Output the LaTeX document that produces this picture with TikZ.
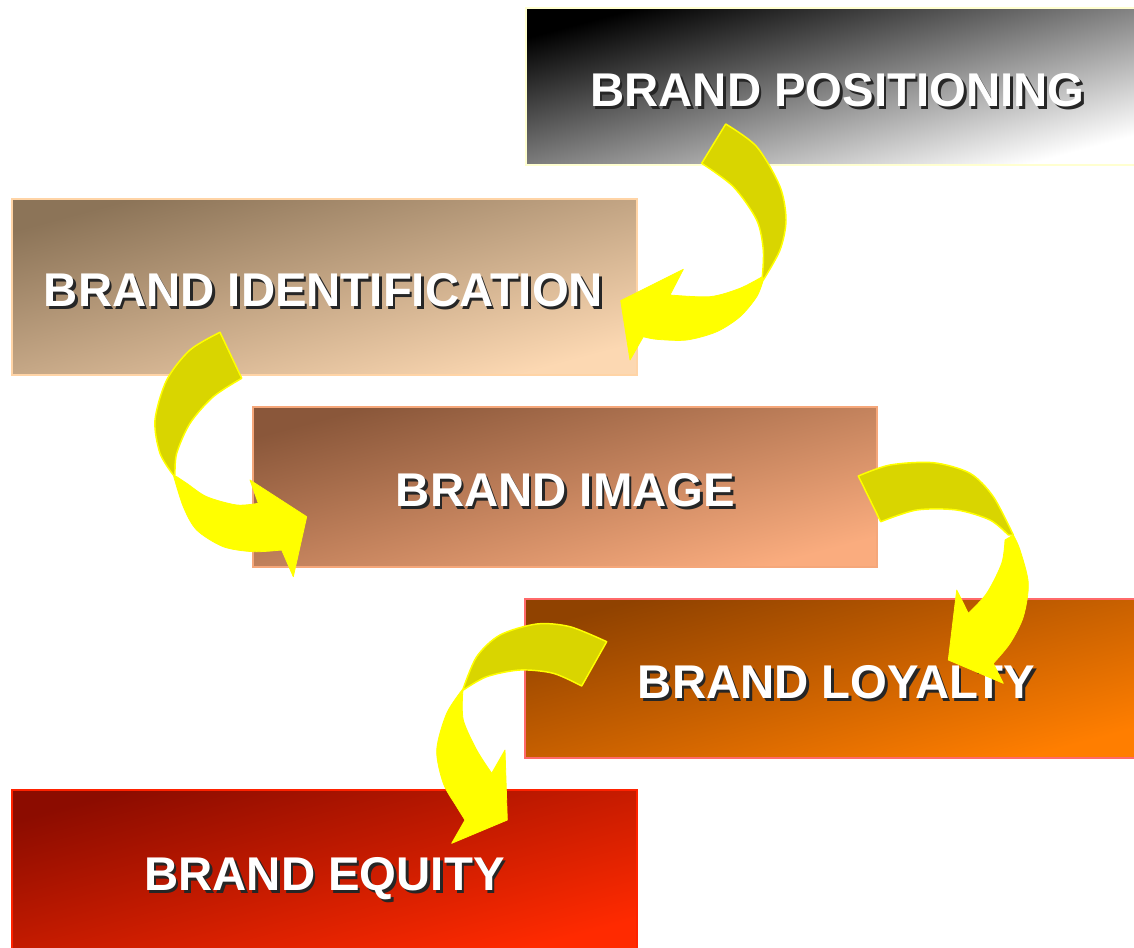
\documentclass[tikz,border=0pt]{standalone}
\usepackage{fontspec}
\setmainfont{Liberation Sans}
\usetikzlibrary{fit}
\definecolor{b1a}{HTML}{000000}\definecolor{b1b}{HTML}{FFFFFF}\definecolor{b1e}{HTML}{FFFFD0}
\definecolor{b2a}{HTML}{8C7458}\definecolor{b2b}{HTML}{FCD8B2}\definecolor{b2e}{HTML}{FFD4A6}
\definecolor{b3a}{HTML}{8A573A}\definecolor{b3b}{HTML}{FAAC7E}\definecolor{b3e}{HTML}{F5A77A}
\definecolor{b4a}{HTML}{904200}\definecolor{b4b}{HTML}{FF7E00}\definecolor{b4e}{HTML}{FF6A6A}
\definecolor{b5a}{HTML}{8C0C00}\definecolor{b5b}{HTML}{FF2A00}\definecolor{b5e}{HTML}{FF2200}
\definecolor{dkyel}{HTML}{D9D500}
\definecolor{bryel}{HTML}{FFFF00}
\newcommand\shtext[1]{\rlap{\kern1.9pt\raisebox{-1.9pt}{\color{black!85}#1}}#1}
\begin{document}
\begin{tikzpicture}[x=0.75pt,y=-0.75pt,
  gbox/.style n args={3}{inner sep=0pt, line width=1.1pt, draw=#3, top color=#1, bottom color=#2, shading angle=15},
  lbl/.style={anchor=base, text=white, font=\bfseries\fontsize{35.5}{40}\selectfont, inner sep=0pt},
  dk/.style={fill=dkyel, draw=bryel, line width=1.1pt, line join=round},
  br/.style={fill=bryel, draw=bryel, line width=0.6pt, line join=round}]
\useasboundingbox (0,0) rectangle (1134,948);
\fill[white] (0,0) rectangle (1134,948);
% boxes
\node[gbox={b1a}{b1b}{b1e}, fit={(526,8)(1136,165)}] (pos) {};
\node[gbox={b2a}{b2b}{b2e}, fit={(12,199)(637,375)}] (ident) {};
\node[gbox={b3a}{b3b}{b3e}, fit={(253,407)(877,567)}] (image) {};
\node[gbox={b4a}{b4b}{b4e}, fit={(525,599)(1136,758)}] (loyal) {};
\node[gbox={b5a}{b5b}{b5e}, fit={(12,790)(637,950)}] (equity) {};
% labels
\node[lbl] (posT) at (837.5,106.5) {\shtext{BRAND POSITIONING}};
\node[lbl] (identT) at (323.5,306.5) {\shtext{BRAND IDENTIFICATION}};
\node[lbl] (imageT) at (565.5,506.5) {\shtext{BRAND IMAGE}};
\node[lbl] (loyalT) at (836.5,698.5) {\shtext{BRAND LOYALTY}};
\node[lbl] (equityT) at (324.5,890.5) {\shtext{BRAND EQUITY}};
% arrow 1: positioning -> identification
\filldraw[dk] plot[smooth] coordinates {(725.7,124) (756.7,146.7) (780,186.7) (786,220) (780,250) (763.3,280)}
  -- plot[smooth] coordinates {(762.3,276.7) (763.3,250) (756.7,220) (733.3,186.7) (701.7,163.3)} -- cycle;
\filldraw[br] plot[smooth] coordinates {(763.3,280) (756.7,296.7) (740,316.7) (716.7,331.7) (686.7,340) (656.7,339.3) (643.3,336.7)}
  -- (630,360) -- (620.7,300.7) -- (683.3,269.3) -- (670,295)
  -- plot[smooth] coordinates {(670,295) (710,296.7) (740,288.3) (762.3,276.7)} -- cycle;
% arrow 2: identification -> image
\filldraw[dk] plot[smooth] coordinates {(220,332.3) (190,350) (166.7,380) (155,420) (160,453.3) (173.3,475)}
  -- plot[smooth] coordinates {(175,475) (176.7,453.3) (190,423.3) (213.3,396.7) (241.7,378.3)} -- cycle;
\filldraw[br] plot[smooth] coordinates {(173.3,475) (183.3,506.7) (196.7,530) (223.3,546.7) (253.3,551.7) (281.7,550)}
  -- (293.3,576.7) -- (306.7,516.7) -- (250,480) -- (258.3,503.3)
  -- plot[smooth] coordinates {(258.3,503.3) (236.7,505) (206.7,496.7) (186.7,483.3) (176.7,476.7)} -- cycle;
% arrow 3: image -> loyalty
\filldraw[dk] plot[smooth] coordinates {(858.3,476) (890,465) (933.3,462.7) (970,473.3) (993.3,496.7) (1013.3,535)}
  -- plot[smooth] coordinates {(1008.3,535) (990,520) (956.7,510) (916.7,510) (880.7,521.7)} -- cycle;
\filldraw[br] plot[smooth] coordinates {(1013.3,535) (1020,550) (1028.3,583.3) (1023.3,616.7) (1010,643.3) (993.3,663.3)}
  -- (1003.3,683.3) -- (948.3,660) -- (956.7,590) -- (968.3,613.3)
  -- plot[smooth] coordinates {(968.3,613.3) (986.7,593.3) (1001.7,563.3) (1005,540)} -- cycle;
% arrow 4: loyalty -> equity
\filldraw[dk] plot[smooth] coordinates {(606.7,641.7) (570,626.7) (536.7,624) (500,635) (476.7,656.7) (463.3,688.3)}
  -- plot[smooth] coordinates {(463.3,690) (486.7,676.7) (520,670) (553.3,673.3) (581.7,686)} -- cycle;
\filldraw[br] plot[smooth] coordinates {(463.3,688.3) (446.7,713.3) (436.7,750) (443.3,783.3) (456.7,806.7) (465,820)}
  -- (451.7,843.3) -- (507.3,820) -- (505,750) -- (491.7,773.3)
  -- plot[smooth] coordinates {(491.7,773.3) (476.7,750) (463.3,720) (462.7,693.3)} -- cycle;
\end{tikzpicture}
\end{document}
